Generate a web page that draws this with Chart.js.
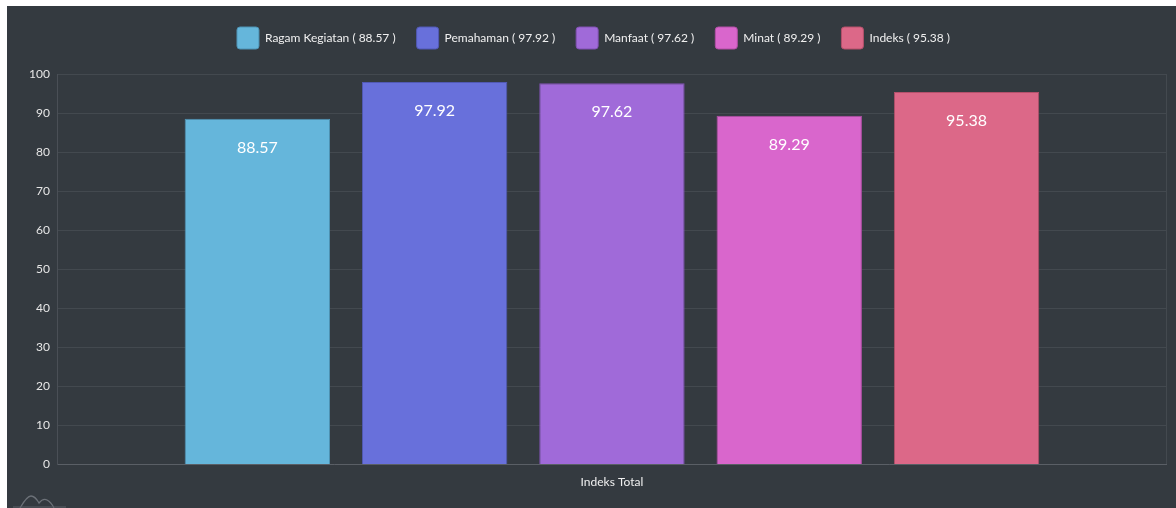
<!DOCTYPE html>
<html>
<head>
<meta charset="utf-8">
<script src="https://cdn.jsdelivr.net/npm/chart.js@4.4.1/dist/chart.umd.min.js"></script>
<style>
  html, body { margin: 0; padding: 0; background: #ffffff; }
  #kartu {
    position: absolute; left: 7px; top: 6px;
    width: 1169px; height: 502px;
    background: #343a40; overflow: hidden;
  }
  #wrap { position: absolute; left: 0; top: 0; width: 1169px; height: 502px; }
  #logo { position: absolute; left: 3px; top: 487px; }
</style>
</head>
<body>
<div id="kartu">
  <div id="wrap"><canvas id="grafik"></canvas></div>
  <svg id="logo" width="60" height="16" viewBox="0 0 60 16">
    <path d="M10 15 Q17 3 21 3 Q25 3 29 10 Q33 5 37 7 Q41 9 44 15" fill="none" stroke="#6c7178" stroke-width="1.3"/>
    <path d="M3 14 L56 14" stroke="#5c6168" stroke-width="1"/>
  </svg>
</div>
<script>
  // data kategori dan nilai
  const kategori = ["Indeks Total"];
  const namaSeri = ["Ragam Kegiatan", "Pemahaman", "Manfaat", "Minat", "Indeks"];
  const nilaiSeri = [88.57, 97.92, 97.62, 89.29, 95.38];
  const labelTick = [0, 10, 20, 30, 40, 50, 60, 70, 80, 90, 100];

  const warnaIsi = ["#65b6db", "#6870db", "#a06ad9", "#d966cc", "#dc6888"];
  const warnaGaris = ["#4f93b4", "#5159b4", "#8151b3", "#b24fa6", "#b5506b"];

  // plugin kecil untuk menulis nilai di dalam batang
  const labelBatang = {
    id: "labelBatang",
    afterDatasetsDraw(chart) {
      const ctx = chart.ctx;
      ctx.save();
      ctx.font = "16px Lato, 'Noto Sans', sans-serif";
      ctx.fillStyle = "#ffffff";
      ctx.textAlign = "center";
      ctx.textBaseline = "middle";
      chart.data.datasets.forEach((ds, i) => {
        const meta = chart.getDatasetMeta(i);
        meta.data.forEach((bar, j) => {
          ctx.fillText(ds.data[j].toFixed(2), bar.x, bar.y + 29);
        });
      });
      ctx.restore();
    },
  };

  // jarak ekstra di bawah legenda
  const jarakLegenda = {
    id: "jarakLegenda",
    beforeInit(chart) {
      const fitAsli = chart.legend.fit;
      chart.legend.fit = function () {
        fitAsli.call(this);
        this.height += 15;
      };
    },
  };

  const datasets = namaSeri.map((nama, i) => ({
    label: nama + " ( " + nilaiSeri[i].toFixed(2) + " )",
    data: [nilaiSeri[i]],
    backgroundColor: warnaIsi[i],
    borderColor: warnaGaris[i],
    borderWidth: 1,
    barPercentage: 0.82,
    categoryPercentage: 0.8,
  }));

  Chart.defaults.font.family = "Lato, 'Noto Sans', sans-serif";
  Chart.defaults.font.size = 12;

  new Chart(document.getElementById("grafik"), {
    type: "bar",
    data: { labels: kategori, datasets: datasets },
    options: {
      responsive: true,
      maintainAspectRatio: false,
      animation: false,
      layout: { padding: { left: 14, right: 10, top: 0, bottom: 9 } },
      plugins: {
        tooltip: { enabled: false },
        legend: {
          labels: {
            color: "#f0f0f0",
            boxWidth: 22,
            boxHeight: 22,
            useBorderRadius: true,
            borderRadius: 3,
            padding: 21,
            font: { size: 12 },
          },
        },
      },
      scales: {
        x: {
          ticks: { color: "#f0f0f0", font: { size: 12 }, padding: 10 },
          grid: { color: "rgba(255,255,255,0.08)", drawTicks: false },
          border: { color: "#5a5f66" },
        },
        y: {
          min: 0,
          max: 100,
          afterBuildTicks(axis) {
            axis.ticks = labelTick.map((v) => ({ value: v }));
          },
          ticks: { color: "#e6e6e6", font: { size: 12 }, padding: 8 },
          grid: { color: "rgba(255,255,255,0.08)", drawTicks: false },
          border: { color: "#4a4f56" },
        },
      },
    },
    plugins: [labelBatang, jarakLegenda],
  });
</script>
</body>
</html>
